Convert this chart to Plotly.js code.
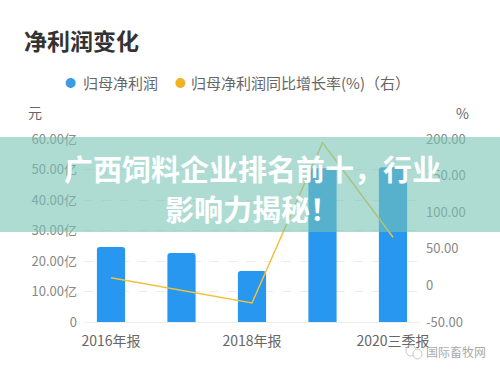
<!DOCTYPE html>
<html>
<head>
<meta charset="utf-8">
<script src="https://cdn.plot.ly/plotly-3.0.1.min.js"></script>
<style>html,body{margin:0;padding:0;background:#fff;}#chart{width:500px;height:372px;}</style>
</head>
<body>
<div id="chart"></div>
<script>
// ---- data ----
const categories = ["2016年报", "2017年报", "2018年报", "2019年报", "2020三季报"];
const shownTicks = ["2016年报", "2018年报", "2020三季报"];
const netProfit = [24.6, 22.6, 16.7, 50.4, 50.7];          // 亿元
const profitGrowth = [10.5, -7.0, -24.0, 195.0, 65.7];      // %
const leftTickVals = [0, 10, 20, 30, 40, 50, 60];
const leftTickText = ["0", "10.00亿", "20.00亿", "30.00亿", "40.00亿", "50.00亿", "60.00亿"];
const rightTickVals = [-50, 0, 50, 100, 150, 200];
const rightTickText = ["-50.00", "0", "50.00", "100.00", "150.00", "200.00"];
const seriesNames = ["归母净利润", "归母净利润同比增长率(%)（右）"];

// ---- layout helpers (pixel -> paper) ----
const L = 84, R = 420, T = 139, B = 322;
const px = x => (x - L) / (R - L);
const py = y => (B - y) / (B - T);
const FONT = '"Noto Sans CJK SC", "Noto Sans", sans-serif';
const BLUE = '#2897ef', YELLOW = '#f2c13a';

const traces = [
  {type: 'bar', x: categories, y: netProfit, name: seriesNames[0], width: 0.4,
   marker: {color: BLUE, cornerradius: 3}, showlegend: false, hoverinfo: 'skip'},
  {type: 'scatter', mode: 'lines', x: categories, y: profitGrowth, name: seriesNames[1], yaxis: 'y2',
   line: {color: YELLOW, width: 1.5}, showlegend: false, hoverinfo: 'skip'}
];

const layout = {
  width: 500, height: 372,
  margin: {l: L, r: 500 - R, t: T, b: 372 - B, pad: 0},
  paper_bgcolor: '#fff', plot_bgcolor: '#fff',
  font: {family: FONT, color: '#888', size: 13},
  showlegend: false,
  bargap: 0.4,
  xaxis: {type: 'category', range: [-0.383, 4.383], tickvals: shownTicks, ticktext: shownTicks,
          tickfont: {size: 14, color: '#666', family: FONT}, showgrid: false, zeroline: false,
          showline: true, linecolor: '#eeeeee', linewidth: 1, ticks: '', fixedrange: true, ticklabelstandoff: 6},
  yaxis: {range: [0, 60], tickvals: leftTickVals, ticktext: leftTickText, showgrid: true,
          gridcolor: '#ececec', griddash: 'dash', gridwidth: 1, zeroline: false, showline: false,
          tickfont: {size: 13, color: '#888', family: FONT}, ticklabelstandoff: 6, fixedrange: true},
  yaxis2: {range: [-50, 200], tickvals: rightTickVals, ticktext: rightTickText, overlaying: 'y', side: 'right',
           showgrid: false, zeroline: false, showline: false,
           tickfont: {size: 13, color: '#888', family: FONT}, ticklabelstandoff: 5, fixedrange: true},
  shapes: [
    {type: 'rect', xref: 'paper', yref: 'paper', x0: px(0), x1: px(500), y0: py(232), y1: py(137),
     fillcolor: 'rgba(120,195,180,0.6)', line: {width: 0}, layer: 'above'},
    {type: 'circle', xref: 'paper', yref: 'paper', x0: px(406), x1: px(416), y0: py(356), y1: py(345),
     line: {color: '#c8c8c8', width: 1}, fillcolor: 'rgba(0,0,0,0)'},
    {type: 'circle', xref: 'paper', yref: 'paper', x0: px(413), x1: px(422), y0: py(359), y1: py(349),
     line: {color: '#c8c8c8', width: 1}, fillcolor: 'rgba(255,255,255,1)'}
  ],
  annotations: [
    {text: '<b>净利润变化</b>', xref: 'paper', yref: 'paper', x: px(22), y: py(40), xanchor: 'left', yanchor: 'middle',
     showarrow: false, font: {size: 23, color: '#333', family: FONT}},
    {text: '●', xref: 'paper', yref: 'paper', x: px(70), y: py(82), xanchor: 'center', yanchor: 'middle',
     showarrow: false, font: {size: 11, color: '#3a9be6', family: FONT}},
    {text: seriesNames[0], xref: 'paper', yref: 'paper', x: px(81), y: py(82), xanchor: 'left', yanchor: 'middle',
     showarrow: false, font: {size: 15, color: '#666', family: FONT}},
    {text: '●', xref: 'paper', yref: 'paper', x: px(180), y: py(82), xanchor: 'center', yanchor: 'middle',
     showarrow: false, font: {size: 11, color: '#f0b323', family: FONT}},
    {text: seriesNames[1], xref: 'paper', yref: 'paper', x: px(189), y: py(82), xanchor: 'left', yanchor: 'middle',
     showarrow: false, font: {size: 15, color: '#666', family: FONT}},
    {text: '元', xref: 'paper', yref: 'paper', x: px(35), y: py(112), xanchor: 'center', yanchor: 'middle',
     showarrow: false, font: {size: 14, color: '#666', family: FONT}},
    {text: '%', xref: 'paper', yref: 'paper', x: px(462), y: py(113), xanchor: 'center', yanchor: 'middle',
     showarrow: false, font: {size: 14, color: '#666', family: FONT}},
    {text: '<b>广西饲料企业排名前十，行业</b>', xref: 'paper', yref: 'paper', x: px(252), y: py(168), xanchor: 'center', yanchor: 'middle',
     showarrow: false, font: {size: 29, color: '#ffffff', family: FONT}},
    {text: '<b>影响力揭秘！</b>', xref: 'paper', yref: 'paper', x: px(252), y: py(208), xanchor: 'center', yanchor: 'middle',
     showarrow: false, font: {size: 29, color: '#ffffff', family: FONT}},
    {text: '国际畜牧网', xref: 'paper', yref: 'paper', x: px(424), y: py(351), xanchor: 'left', yanchor: 'middle',
     showarrow: false, font: {size: 12, color: '#aaa', family: FONT}}
  ]
};

Plotly.newPlot('chart', traces, layout, {staticPlot: true, displayModeBar: false});
</script>
</body>
</html>
